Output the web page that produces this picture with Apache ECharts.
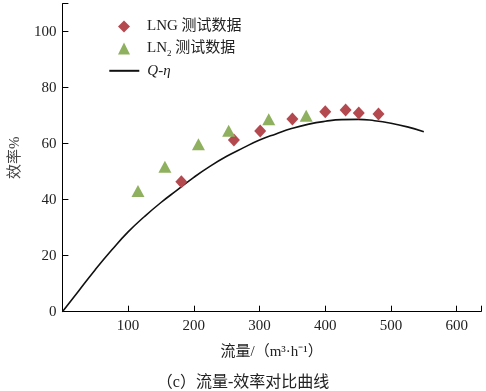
<!DOCTYPE html>
<html><head><meta charset="utf-8">
<script src="https://cdn.jsdelivr.net/npm/echarts@6/dist/echarts.min.js"></script>
<style>html,body{margin:0;padding:0;background:#fff}#c{width:486px;height:391px}</style>
</head><body><div id="c"></div>
<script>
// LNG test data [flow, efficiency]
const lngFlow = [181, 261, 301, 350, 400, 431, 451, 481];
const lngEff  = [46.4, 61.3, 64.5, 68.8, 71.4, 72.0, 71.0, 70.6];
// LN2 test data
const ln2Flow = [115, 156, 207, 253, 314, 371];
const ln2Eff  = [43.1, 51.8, 59.8, 64.6, 68.7, 70.0];
// Q-eta curve
const curveFlow = [0, 25, 50, 75, 100, 125, 150, 175, 200, 225, 250, 275, 300, 325, 350, 375, 400, 425, 450, 475, 500, 525, 550];
const curveEff  = [0, 7.5, 15, 22, 28.5, 34, 39, 43.5, 48, 52, 55.5, 58.5, 61.3, 63.5, 65.5, 67, 68, 68.6, 68.7, 68.2, 67.3, 66, 64.3];
const xTicks = [100, 200, 300, 400, 500, 600];
const yTicks = [0, 20, 40, 60, 80, 100];

const serif = "'Liberation Serif', 'Noto Sans CJK SC', serif";
const zip = (a, b) => a.map((v, i) => [v, b[i]]);

const legendText = {
  fontFamily: serif, fontSize: 15, color: '#222',
  rich: {
    sub: {fontFamily: serif, fontSize: 9, color: '#222', verticalAlign: 'bottom', padding: [10, 0, 0, 0]},
    i: {fontFamily: serif, fontSize: 15, fontStyle: 'italic', color: '#222'}
  }
};
const legendFmt = function (n) {
  if (n === 'LN2 测试数据') return 'LN{sub|2} 测试数据';
  if (n === 'Q-η') return '{i|Q}-{i|η}';
  return n;
};

const chart = echarts.init(document.getElementById('c'), null, {renderer: 'canvas'});
chart.setOption({
  animation: false,
  backgroundColor: '#fff',
  grid: {left: 58.3, right: 5, top: 3.7, bottom: 79.3, containLabel: false},
  title: {
    text: '（c）流量-效率对比曲线',
    left: 'center', top: 370,
    textStyle: {fontFamily: serif, fontSize: 16, fontWeight: 'normal', color: '#222'}
  },
  legend: [
    {
      orient: 'vertical', left: 113, top: 14, itemWidth: 12, itemHeight: 12, itemGap: 7,
      data: [
        {name: 'LNG 测试数据', icon: 'diamond'},
        {name: 'LN2 测试数据', icon: 'triangle'}
      ],
      formatter: legendFmt,
      textStyle: Object.assign({padding: [0, 0, 0, 12]}, legendText)
    },
    {
      orient: 'vertical', left: 104.3, top: 58.3, itemWidth: 30, itemHeight: 2,
      data: [{name: 'Q-η', icon: 'rect'}],
      formatter: legendFmt,
      textStyle: Object.assign({padding: [0, 0, 0, 3]}, legendText)
    }
  ],
  xAxis: {
    type: 'value', min: 0, max: 637, interval: 100,
    name: '流量/（m³·h⁻¹）', nameLocation: 'middle', nameGap: 33,
    nameTextStyle: {fontFamily: serif, fontSize: 15, color: '#222'},
    axisLine: {lineStyle: {color: '#000', width: 1}},
    axisTick: {inside: true, length: 6, lineStyle: {color: '#000'}},
    splitLine: {show: false},
    axisLabel: {
      fontFamily: serif, fontSize: 15, color: '#222', margin: 7,
      formatter: v => (xTicks.indexOf(v) >= 0 ? String(v) : '')
    }
  },
  yAxis: {
    type: 'value', min: 0, max: 110, interval: 20,
    name: '效率%', nameLocation: 'middle', nameGap: 39, nameRotate: 90,
    nameTextStyle: {fontFamily: serif, fontSize: 15, color: '#444'},
    axisLine: {show: true, lineStyle: {color: '#000', width: 1}},
    axisTick: {show: true, inside: true, length: 6, lineStyle: {color: '#000'}},
    splitLine: {show: false},
    axisLabel: {
      fontFamily: serif, fontSize: 15, color: '#222', margin: 6,
      formatter: v => (yTicks.indexOf(v) >= 0 ? String(v) : '')
    }
  },
  series: [
    {
      name: 'Q-η', type: 'line', data: zip(curveFlow, curveEff), smooth: true,
      symbol: 'none', z: 1,
      lineStyle: {color: '#111', width: 1.6}, itemStyle: {color: '#111'}
    },
    {
      name: 'LNG 测试数据', type: 'scatter', data: zip(lngFlow, lngEff),
      symbol: 'diamond', symbolSize: [12, 13], z: 3,
      itemStyle: {color: '#b44a50', opacity: 1}
    },
    {
      name: 'LN2 测试数据', type: 'scatter', data: zip(ln2Flow, ln2Eff),
      symbol: 'triangle', symbolSize: [13, 12], z: 3,
      itemStyle: {color: '#8fb05e', opacity: 1}
    }
  ]
});
</script></body></html>
